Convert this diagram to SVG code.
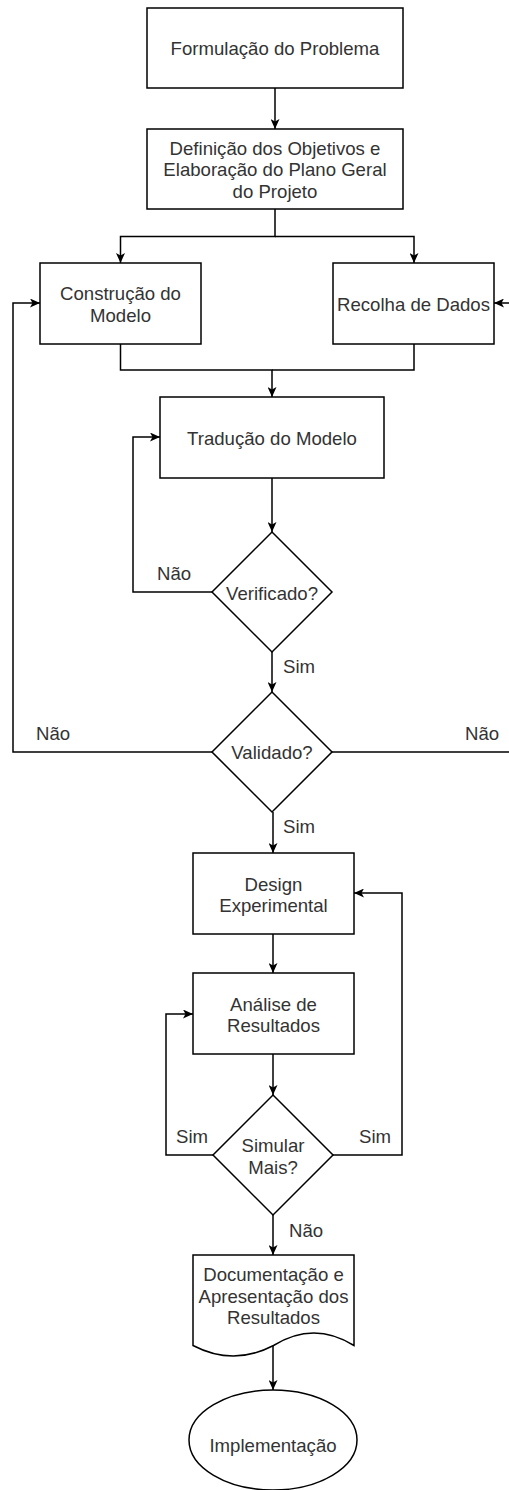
<svg xmlns="http://www.w3.org/2000/svg" width="509" height="1490" viewBox="0 0 509 1490">
  <defs>
    <marker id="arrow" viewBox="0 0 10 9" refX="10" refY="4.5" markerWidth="10" markerHeight="9" markerUnits="userSpaceOnUse" orient="auto">
      <path d="M0,0 L10,4.5 L0,9 L2.5,4.5 Z" fill="#000"/>
    </marker>
  </defs>
  <style>
    .shape { fill: #fff; stroke: #000; stroke-width: 1.5; }
    .edge { fill: none; stroke: #000; stroke-width: 1.5; }
    .arr { marker-end: url(#arrow); }
    text { font-family: "Liberation Sans", Arial, sans-serif; font-size: 18.6px; fill: #333; }
    .c { text-anchor: middle; }
  </style>
  <rect width="509" height="1490" fill="#fff"/>

  <!-- connectors -->
  <g id="connectors">
    <path class="edge arr" d="M275,88 L275,129"/>
    <path class="edge arr" d="M275,209 L275,236.5 L120.5,236.5 L120.5,263"/>
    <path class="edge arr" d="M275,236.5 L414,236.5 L414,263"/>
    <path class="edge arr" d="M120.5,344 L120.5,370 L272,370 L272,397"/>
    <path class="edge" d="M414,344 L414,370 L272,370"/>
    <path class="edge arr" d="M272,478 L272,532"/>
    <path class="edge arr" d="M212,592 L133,592 L133,437 L160,437"/>
    <path class="edge arr" d="M272,652 L272,692"/>
    <path class="edge arr" d="M212,752 L13,752 L13,303 L40,303"/>
    <path class="edge arr" d="M332,752 L511,752 L511,303 L494,303"/>
    <path class="edge arr" d="M273,812 L273,853"/>
    <path class="edge arr" d="M273,934 L273,973"/>
    <path class="edge arr" d="M273,1054 L273,1095"/>
    <path class="edge arr" d="M213,1155 L166,1155 L166,1014 L193,1014"/>
    <path class="edge arr" d="M333,1155 L402,1155 L402,893 L354,893"/>
    <path class="edge arr" d="M273,1215 L273,1255"/>
    <path class="edge arr" d="M273,1345.5 L273,1390"/>
    <!-- edge labels -->
    <text x="157" y="580">Não</text>
    <text x="283" y="673">Sim</text>
    <text x="36" y="740">Não</text>
    <text x="465" y="740">Não</text>
    <text x="283" y="833">Sim</text>
    <text x="176" y="1143">Sim</text>
    <text x="359" y="1143">Sim</text>
    <text x="289" y="1237">Não</text>
  </g>

  <g id="formulacao">
    <rect class="shape" x="147" y="8" width="256" height="80"/>
    <text class="c" x="275" y="55">Formulação do Problema</text>
  </g>

  <g id="definicao">
    <rect class="shape" x="147" y="129" width="256" height="80"/>
    <text class="c" x="275" y="154.5">Definição dos Objetivos e</text>
    <text class="c" x="275" y="176">Elaboração do Plano Geral</text>
    <text class="c" x="275" y="197.5">do Projeto</text>
  </g>

  <g id="construcao">
    <rect class="shape" x="40" y="263" width="161" height="81"/>
    <text class="c" x="120.5" y="300">Construção do</text>
    <text class="c" x="120.5" y="321.5">Modelo</text>
  </g>

  <g id="recolha">
    <rect class="shape" x="333" y="263" width="161" height="81"/>
    <text class="c" x="413.5" y="310.5">Recolha de Dados</text>
  </g>

  <g id="traducao">
    <rect class="shape" x="160" y="397" width="224" height="81"/>
    <text class="c" x="272" y="445">Tradução do Modelo</text>
  </g>

  <g id="verificado">
    <path class="shape" d="M272,532 L332,592 L272,652 L212,592 Z"/>
    <text class="c" x="272" y="599.5">Verificado?</text>
  </g>

  <g id="validado">
    <path class="shape" d="M272,692 L332,752 L272,812 L212,752 Z"/>
    <text class="c" x="272" y="759">Validado?</text>
  </g>

  <g id="design">
    <rect class="shape" x="193" y="853" width="161" height="81"/>
    <text class="c" x="273.5" y="890.5">Design</text>
    <text class="c" x="273.5" y="912">Experimental</text>
  </g>

  <g id="analise">
    <rect class="shape" x="193" y="973" width="161" height="81"/>
    <text class="c" x="273.5" y="1010.5">Análise de</text>
    <text class="c" x="273.5" y="1032">Resultados</text>
  </g>

  <g id="simular">
    <path class="shape" d="M273,1095 L333,1155 L273,1215 L213,1155 Z"/>
    <text class="c" x="273" y="1152">Simular</text>
    <text class="c" x="273" y="1173.5">Mais?</text>
  </g>

  <g id="documentacao">
    <path class="shape" d="M193,1255 L354,1255 L354,1345.5 Q313.75,1320.5 273.5,1345.5 Q233.25,1366.5 193,1345.5 Z"/>
    <text class="c" x="273.5" y="1281">Documentação e</text>
    <text class="c" x="273.5" y="1302.5">Apresentação dos</text>
    <text class="c" x="273.5" y="1324">Resultados</text>
  </g>

  <g id="implementacao">
    <ellipse class="shape" cx="273" cy="1440" rx="84" ry="50"/>
    <text class="c" x="273" y="1452">Implementação</text>
  </g>
</svg>
